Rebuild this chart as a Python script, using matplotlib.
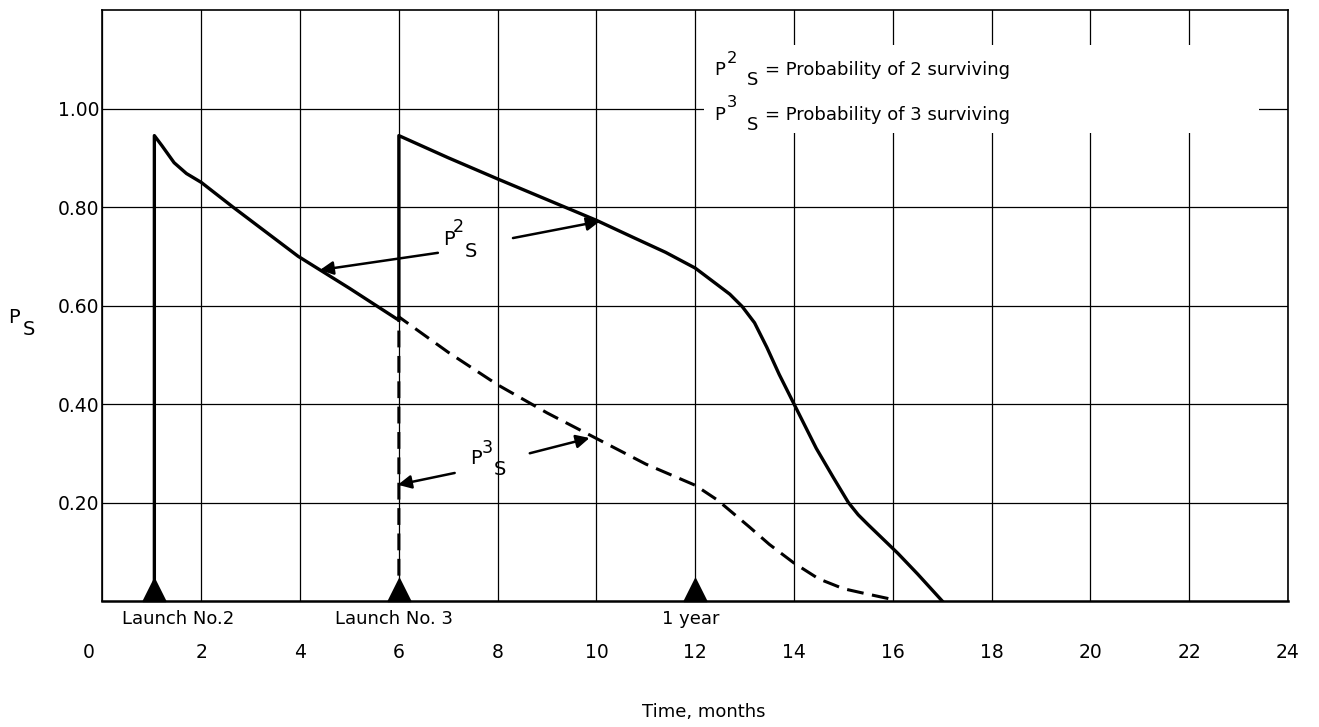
import numpy as np
import matplotlib.pyplot as plt
from matplotlib.path import Path
from matplotlib.patches import Rectangle
from matplotlib.transforms import ScaledTranslation

# --- data ---
# P2S (solid): launch no.2 at ~1 month, decays, jumps back at launch no.3 (6 months)
p2_months = [1.05, 1.05, 1.2, 1.45, 1.7, 2.0, 2.64, 3.3, 3.96, 5.0, 5.97,
             6.0, 6.0, 7.0, 8.0, 9.0, 10.0, 10.75, 11.4, 12.0, 12.45, 12.7, 12.95,
             13.2, 13.45, 13.7, 14.0, 14.45, 14.8, 15.1, 15.3, 15.5, 16.1, 16.5, 17.0]
p2_values = [0.0, 0.945, 0.925, 0.89, 0.868, 0.85, 0.80, 0.75, 0.70, 0.635, 0.572,
             0.572, 0.945, 0.90, 0.857, 0.815, 0.773, 0.738, 0.708, 0.676, 0.642, 0.623, 0.598,
             0.565, 0.515, 0.46, 0.40, 0.31, 0.25, 0.20, 0.175, 0.155, 0.097, 0.055, 0.0]

# P3S (dashed): starts at launch no.3
p3_months = [6.0, 6.0, 7.0, 8.0, 9.0, 10.0, 11.0, 12.0, 12.45, 13.1,
             13.5, 14.0, 14.5, 15.0, 15.4, 16.0]
p3_values = [0.0, 0.577, 0.505, 0.439, 0.382, 0.33, 0.278, 0.235, 0.205, 0.15,
             0.115, 0.077, 0.045, 0.025, 0.016, 0.003]

launch_months = [1.05, 6.0, 12.0]
launch_labels = ['Launch No.2', 'Launch No. 3', '1 year']
launch_label_x = [1.53, 5.9, 11.9]

x_ticks = np.arange(0, 25, 2)
y_ticks = [0.2, 0.4, 0.6, 0.8, 1.0]
y_ticklabels = ['0.20', '0.40', '0.60', '0.80', '1.00']

# arrows: (tail, head) in data coords
p2_arrows = [((6.79, 0.707), (4.40, 0.672)), ((8.31, 0.737), (10.07, 0.771))]
p3_arrows = [((7.13, 0.26), (5.98, 0.236)), ((8.65, 0.30), (9.86, 0.331))]

fig = plt.figure(figsize=(13.19, 7.27), dpi=100)
ax = fig.add_axes([0.0777, 0.1733, 0.8988, 0.8129])
ax.set_xlim(0, 24)
ax.set_ylim(0, 1.2)
ax.set_axisbelow(True)
ax.grid(True, color='black', lw=0.9)

for side in ['left', 'right', 'top']:
    ax.spines[side].set_linewidth(1.2)
ax.spines['bottom'].set_linewidth(1.8)

ax.set_xticks(x_ticks)
ax.set_xticklabels([str(v) for v in x_ticks])
ax.set_yticks(y_ticks)
ax.set_yticklabels(y_ticklabels)
ax.tick_params(axis='x', length=0, pad=30, labelsize=13.5)
ax.tick_params(axis='y', length=0, pad=2.5, labelsize=13.5)
# the "0" sits a little left of the axis in the original
lab0 = ax.get_xticklabels()[0]
lab0.set_transform(lab0.get_transform() + ScaledTranslation(-10 / 72, 0, fig.dpi_scale_trans))

# white box behind the key text (breaks the grid there)
ax.add_patch(Rectangle((0.5078, 0.792), 0.468, 0.149, transform=ax.transAxes,
                       facecolor='white', edgecolor='none', zorder=1))

ax.plot(p2_months, p2_values, color='black', lw=2.4, zorder=3)
ax.plot(p3_months, p3_values, color='black', lw=2.2, dashes=(5.5, 2.8), zorder=3)

# launch markers: triangles standing on the axis
tri = Path([(-0.5, 0), (0.5, 0), (0, 1), (-0.5, 0)],
           [Path.MOVETO, Path.LINETO, Path.LINETO, Path.CLOSEPOLY])
ax.plot(launch_months, np.zeros(len(launch_months)), ls='none', marker=tri,
        ms=33, color='black', clip_on=False, zorder=5)

for lx, lab in zip(launch_label_x, launch_labels):
    ax.annotate(lab, xy=(lx, 0), xycoords='data', xytext=(0, -13),
                textcoords='offset points', ha='center', va='center', fontsize=13)


def p_label(x, y, sup, size=14, dx_sup=7, dy_sup=9, dx_sub=16, dy_sub=-9):
    # "P" with full-size superscript digit and subscript S, like the typed original
    ax.annotate('P', xy=(x, y), xytext=(0, 0), textcoords='offset points',
                ha='left', va='baseline', fontsize=size, zorder=6, annotation_clip=False)
    ax.annotate(sup, xy=(x, y), xytext=(dx_sup, dy_sup), textcoords='offset points',
                ha='left', va='baseline', fontsize=size * 0.9, zorder=6,
                annotation_clip=False)
    ax.annotate('S', xy=(x, y), xytext=(dx_sub, dy_sub), textcoords='offset points',
                ha='left', va='baseline', fontsize=size, zorder=6, annotation_clip=False)


# curve labels
p_label(6.89, 0.723, '2')
p_label(7.44, 0.278, '3', dx_sup=8.5, dy_sup=8, dx_sub=17, dy_sub=-8)

for tail, head in p2_arrows + p3_arrows:
    ax.annotate('', xy=head, xytext=tail,
                arrowprops=dict(arrowstyle='-|>', lw=1.8, color='black',
                                mutation_scale=20, shrinkA=0, shrinkB=0),
                zorder=6)

# key
p_label(12.39, 1.068, '2', size=13, dx_sup=9, dy_sup=9, dx_sub=23, dy_sub=-7)
ax.text(13.41, 1.068, '= Probability of 2 surviving', fontsize=13, ha='left',
        va='baseline', zorder=6)
p_label(12.39, 0.977, '3', size=13, dx_sup=9, dy_sup=9, dx_sub=23, dy_sub=-7)
ax.text(13.41, 0.977, '= Probability of 3 surviving', fontsize=13, ha='left',
        va='baseline', zorder=6)

# y axis label P_S, placed in figure coords
fig.text(8 / 1319, 1 - 323 / 727, 'P', fontsize=14, ha='left', va='baseline')
fig.text(23 / 1319, 1 - 335 / 727, 'S', fontsize=14, ha='left', va='baseline')

fig.text(704 / 1319, 1 - 712 / 727, 'Time, months', fontsize=13, ha='center', va='center')

fig.savefig('out.png', dpi=100)
